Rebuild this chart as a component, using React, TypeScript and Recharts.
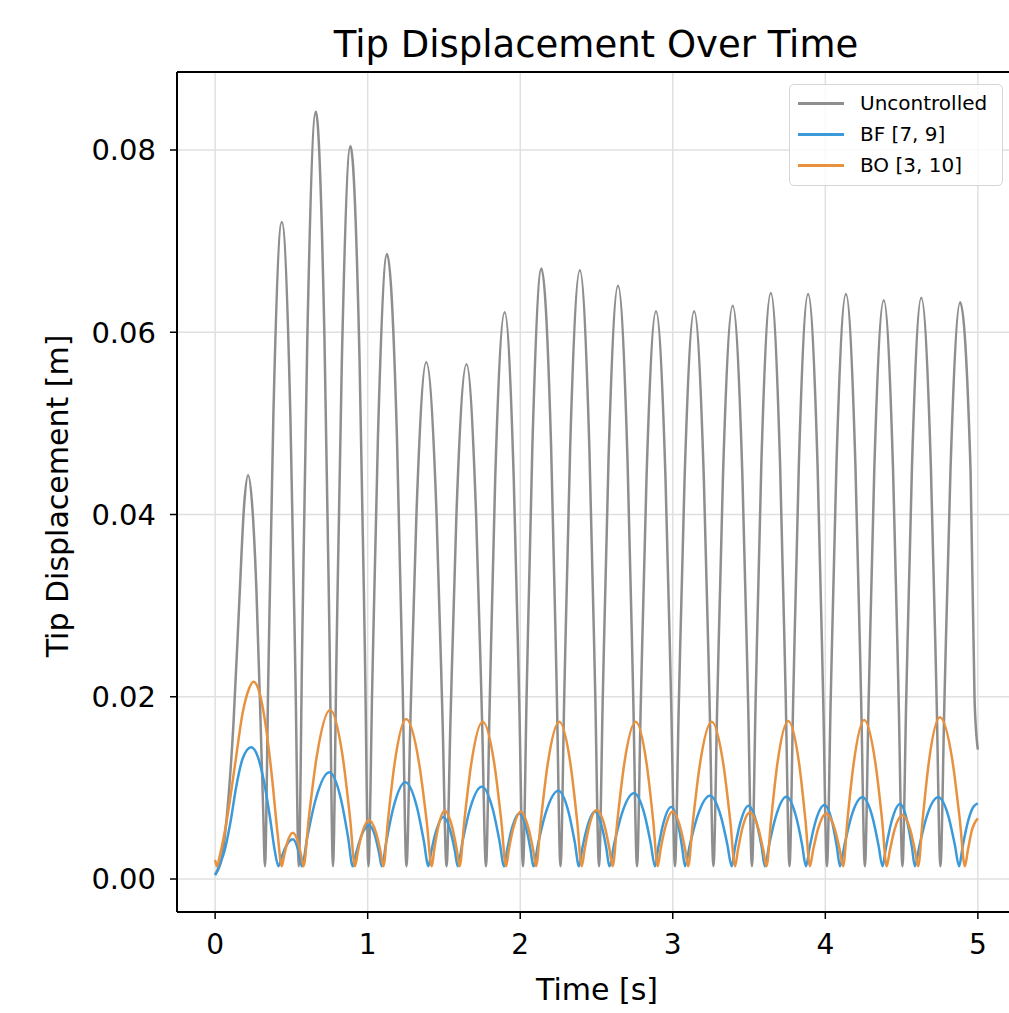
import React from 'react';
import { LineChart, Line, XAxis, YAxis, CartesianGrid, ReferenceLine } from 'recharts';

const X_TICKS = [0, 1, 2, 3, 4, 5];
const Y_TICKS = [0, 0.02, 0.04, 0.06, 0.08];
const X_DOMAIN: [number, number] = [-0.25, 5.25];
const Y_DOMAIN: [number, number] = [-0.00362, 0.08856];

const TITLE = 'Tip Displacement Over Time';
const X_LABEL = 'Time [s]';
const Y_LABEL = 'Tip Displacement [m]';

// Uncontrolled tip displacement [t, value]
const uncontrolled: [number, number][] = [
  [0, 0.0005], [0.04, 0.002], [0.08, 0.0075], [0.12, 0.017], [0.16, 0.031], [0.19, 0.041], [0.216, 0.0443], [0.245, 0.0405], [0.27, 0.032], [0.3, 0.016], [0.315, 0.0075],
  [0.3265, 0.0014], [0.3487, 0.0223], [0.382, 0.051], [0.437, 0.0721], [0.493, 0.051], [0.5263, 0.0223],
  [0.5485, 0.0014], [0.5709, 0.026], [0.6045, 0.0595], [0.66, 0.0842], [0.7165, 0.0595], [0.7501, 0.026],
  [0.7725, 0.0014], [0.7958, 0.0248], [0.8306, 0.0568], [0.887, 0.0804], [0.9469, 0.0568], [0.9818, 0.0248],
  [1.005, 0.0014], [1.0299, 0.0212], [1.0673, 0.0485], [1.127, 0.0686], [1.1918, 0.0485], [1.2291, 0.0212],
  [1.254, 0.0014], [1.2803, 0.0175], [1.3198, 0.0401], [1.384, 0.0567], [1.4513, 0.0401], [1.4907, 0.0175],
  [1.517, 0.0014], [1.5429, 0.0175], [1.5816, 0.0399], [1.648, 0.0565], [1.7109, 0.0399], [1.7497, 0.0175],
  [1.7755, 0.0014], [1.7998, 0.0192], [1.8361, 0.044], [1.898, 0.0622], [1.9574, 0.044], [1.9938, 0.0192],
  [2.018, 0.0014], [2.0426, 0.0207], [2.0795, 0.0474], [2.139, 0.067], [2.2025, 0.0474], [2.2394, 0.0207],
  [2.264, 0.0014], [2.2893, 0.0206], [2.3271, 0.0472], [2.391, 0.0668], [2.4534, 0.0472], [2.4913, 0.0206],
  [2.5165, 0.0014], [2.5414, 0.0201], [2.5788, 0.046], [2.641, 0.0651], [2.7033, 0.046], [2.7406, 0.0201],
  [2.7655, 0.0014], [2.7904, 0.0193], [2.8278, 0.044], [2.89, 0.0623], [2.9523, 0.044], [2.9896, 0.0193],
  [3.0145, 0.0014], [3.0397, 0.0193], [3.0775, 0.044], [3.14, 0.0623], [3.2035, 0.044], [3.2413, 0.0193],
  [3.2665, 0.0014], [3.2918, 0.0194], [3.3296, 0.0445], [3.393, 0.0629], [3.4559, 0.0445], [3.4938, 0.0194],
  [3.519, 0.0014], [3.5436, 0.0199], [3.5805, 0.0455], [3.643, 0.0643], [3.7035, 0.0455], [3.7404, 0.0199],
  [3.765, 0.0014], [3.7896, 0.0198], [3.8264, 0.0454], [3.887, 0.0642], [3.9491, 0.0454], [3.986, 0.0198],
  [4.0105, 0.0014], [4.0354, 0.0198], [4.0728, 0.0454], [4.135, 0.0642], [4.1973, 0.0454], [4.2346, 0.0198],
  [4.2595, 0.0014], [4.2841, 0.0196], [4.321, 0.0449], [4.383, 0.0635], [4.444, 0.0449], [4.4809, 0.0196],
  [4.5055, 0.0014], [4.5304, 0.0197], [4.5678, 0.0451], [4.629, 0.0638], [4.6922, 0.0451], [4.7296, 0.0197],
  [4.7545, 0.0014], [4.7809, 0.0196], [4.8204, 0.0448], [4.884, 0.0633], [4.9521, 0.0448], [4.9785, 0.0196], [5.0, 0.0142],
];

// BF [7, 9] controlled
const bf: [number, number][] = [
  [0, 0.0004], [0.03, 0.0016], [0.06, 0.003], [0.1, 0.0062], [0.14, 0.0103], [0.18, 0.0132], [0.236, 0.01445], [0.28, 0.0134], [0.32, 0.0107], [0.36, 0.0067], [0.39, 0.0032],
  [0.415, 0.0014], [0.4338, 0.0023], [0.462, 0.0035], [0.509, 0.00435], [0.5385, 0.0035], [0.5562, 0.0023],
  [0.568, 0.0014], [0.6042, 0.0046], [0.6585, 0.0087], [0.749, 0.01171], [0.8255, 0.0087], [0.8714, 0.0046],
  [0.902, 0.0014], [0.9234, 0.0028], [0.9555, 0.0046], [1.009, 0.00589], [1.0505, 0.0046], [1.0754, 0.0028],
  [1.092, 0.0014], [1.123, 0.0042], [1.1695, 0.0079], [1.247, 0.01061], [1.3225, 0.0079], [1.3678, 0.0042],
  [1.398, 0.0014], [1.4178, 0.0031], [1.4475, 0.0052], [1.497, 0.0068], [1.5435, 0.0052], [1.5714, 0.0031],
  [1.59, 0.0014], [1.6216, 0.0041], [1.669, 0.0076], [1.748, 0.01013], [1.821, 0.0076], [1.8648, 0.0041],
  [1.894, 0.0014], [1.9142, 0.0032], [1.9445, 0.0055], [1.995, 0.0072], [2.0405, 0.0055], [2.0678, 0.0032],
  [2.086, 0.0014], [2.1188, 0.004], [2.168, 0.0073], [2.25, 0.00969], [2.3175, 0.0073], [2.358, 0.004],
  [2.385, 0.0014], [2.406, 0.0033], [2.4375, 0.0056], [2.49, 0.0074], [2.537, 0.0056], [2.5652, 0.0033],
  [2.584, 0.0014], [2.6164, 0.0039], [2.665, 0.0071], [2.746, 0.0094], [2.8145, 0.0071], [2.8556, 0.0039],
  [2.883, 0.0014], [2.9044, 0.0034], [2.9365, 0.006], [2.99, 0.0079], [3.035, 0.006], [3.062, 0.0034],
  [3.08, 0.0014], [3.1128, 0.0038], [3.162, 0.0069], [3.244, 0.00914], [3.315, 0.0069], [3.3576, 0.0038],
  [3.386, 0.0014], [3.4082, 0.0035], [3.4415, 0.0061], [3.497, 0.00805], [3.5505, 0.0061], [3.5826, 0.0035],
  [3.604, 0.0014], [3.6322, 0.0038], [3.6745, 0.0068], [3.745, 0.00903], [3.809, 0.0068], [3.8474, 0.0038],
  [3.873, 0.0014], [3.8974, 0.0035], [3.934, 0.0062], [3.995, 0.00812], [4.0455, 0.0062], [4.0758, 0.0035],
  [4.096, 0.0014], [4.1254, 0.0037], [4.1695, 0.0068], [4.243, 0.00897], [4.309, 0.0068], [4.3486, 0.0037],
  [4.375, 0.0014], [4.398, 0.0035], [4.4325, 0.0062], [4.49, 0.00823], [4.5385, 0.0062], [4.5676, 0.0035],
  [4.587, 0.0014], [4.6176, 0.0037], [4.6635, 0.0068], [4.74, 0.00897], [4.8085, 0.0068], [4.8496, 0.0037],
  [4.877, 0.0014], [4.8996, 0.0035], [4.9335, 0.0062], [4.97, 0.0079], [5.0, 0.0083],
];

// BO [3, 10] controlled
const bo: [number, number][] = [
  [0, 0.0021], [0.012, 0.0014], [0.03, 0.0025], [0.08, 0.0068], [0.13, 0.0125], [0.18, 0.0182], [0.22, 0.0208], [0.251, 0.02165], [0.29, 0.0205], [0.33, 0.017], [0.37, 0.0116], [0.41, 0.0049],
  [0.437, 0.0014], [0.4514, 0.0025], [0.473, 0.004], [0.509, 0.00508], [0.544, 0.004], [0.565, 0.0025],
  [0.579, 0.0014], [0.614, 0.0067], [0.6665, 0.0135], [0.754, 0.01855], [0.8355, 0.0135], [0.8844, 0.0067],
  [0.917, 0.0014], [0.9354, 0.003], [0.963, 0.005], [1.009, 0.00647], [1.056, 0.005], [1.0842, 0.003],
  [1.103, 0.0014], [1.1328, 0.0064], [1.1775, 0.0128], [1.252, 0.01756], [1.336, 0.0128], [1.3864, 0.0064],
  [1.42, 0.0014], [1.437, 0.0033], [1.4625, 0.0057], [1.505, 0.0075], [1.554, 0.0057], [1.5834, 0.0033],
  [1.603, 0.0014], [1.6332, 0.0063], [1.6785, 0.0126], [1.754, 0.01726], [1.8305, 0.0126], [1.8764, 0.0063],
  [1.907, 0.0014], [1.9262, 0.0033], [1.955, 0.0056], [2.003, 0.00739], [2.0535, 0.0056], [2.0838, 0.0033],
  [2.104, 0.0014], [2.1344, 0.0063], [2.18, 0.0126], [2.256, 0.01726], [2.3295, 0.0126], [2.3736, 0.0063],
  [2.403, 0.0014], [2.4226, 0.0033], [2.452, 0.0058], [2.501, 0.00757], [2.5535, 0.0058], [2.585, 0.0033],
  [2.606, 0.0014], [2.6362, 0.0063], [2.6815, 0.0126], [2.757, 0.01726], [2.829, 0.0126], [2.8722, 0.0063],
  [2.901, 0.0014], [2.9206, 0.0033], [2.95, 0.0056], [2.999, 0.0074], [3.05, 0.0056], [3.0806, 0.0033],
  [3.101, 0.0014], [3.1318, 0.0063], [3.178, 0.0126], [3.255, 0.01727], [3.3315, 0.0126], [3.3774, 0.0063],
  [3.408, 0.0014], [3.4274, 0.0032], [3.4565, 0.0056], [3.505, 0.0073], [3.56, 0.0056], [3.593, 0.0032],
  [3.615, 0.0014], [3.6434, 0.0063], [3.686, 0.0127], [3.757, 0.01734], [3.828, 0.0127], [3.8706, 0.0063],
  [3.899, 0.0014], [3.9204, 0.0032], [3.9525, 0.0055], [4.006, 0.0072], [4.0615, 0.0055], [4.0948, 0.0032],
  [4.117, 0.0014], [4.1446, 0.0064], [4.186, 0.0127], [4.255, 0.01745], [4.3285, 0.0127], [4.3726, 0.0064],
  [4.402, 0.0014], [4.4226, 0.0031], [4.4535, 0.0054], [4.505, 0.007], [4.557, 0.0054], [4.5882, 0.0031],
  [4.609, 0.0014], [4.6374, 0.0064], [4.68, 0.013], [4.751, 0.01774], [4.833, 0.013], [4.8822, 0.0064],
  [4.915, 0.0014], [4.935, 0.0032], [4.96, 0.0053], [5.0, 0.00666],
];

const SERIES = [
  { name: 'Uncontrolled', color: '#8e8e8e', points: uncontrolled },
  { name: 'BF [7, 9]', color: '#3b9ad9', points: bf },
  { name: 'BO [3, 10]', color: '#e8913e', points: bo },
];

const FONT = 'DejaVu Sans, Verdana, sans-serif';

export default function App() {
  return (
    <div style={{ position: 'absolute', left: 0, top: 0, width: 1009, height: 1013, overflow: 'hidden', background: '#fff' }}>
      <LineChart width={1030} height={1013} margin={{ top: 72, right: 14, bottom: 0, left: 0 }}>
        <CartesianGrid stroke="#e0e0e0" strokeWidth={1.5} />
        <XAxis
          type="number"
          dataKey="t"
          domain={X_DOMAIN}
          ticks={X_TICKS}
          allowDataOverflow
          height={101}
          tickSize={7}
          tickMargin={15}
          axisLine={{ stroke: '#000', strokeWidth: 2 }}
          tickLine={{ stroke: '#000', strokeWidth: 1.5 }}
          tick={{ fill: '#000', fontSize: 28, fontFamily: FONT }}
        />
        <YAxis
          type="number"
          domain={Y_DOMAIN}
          ticks={Y_TICKS}
          allowDataOverflow
          width={177}
          tickSize={7}
          tickMargin={14}
          tickFormatter={(v: number) => v.toFixed(2)}
          axisLine={{ stroke: '#000', strokeWidth: 2 }}
          tickLine={{ stroke: '#000', strokeWidth: 1.5 }}
          tick={{ fill: '#000', fontSize: 29, fontFamily: FONT }}
        />
        <ReferenceLine y={Y_DOMAIN[1]} stroke="#000" strokeWidth={2} ifOverflow="extendDomain" />
        {SERIES.map((s) => (
          <Line
            key={s.name}
            name={s.name}
            data={s.points.map(([t, v]) => ({ t, v }))}
            dataKey="v"
            type="monotone"
            stroke={s.color}
            strokeWidth={2.5}
            dot={false}
            activeDot={false}
            isAnimationActive={false}
          />
        ))}
      </LineChart>
      <svg width={1009} height={1013} style={{ position: 'absolute', left: 0, top: 0, pointerEvents: 'none' }}>
        <text x={596} y={57} textAnchor="middle" fontSize={37} fontFamily={FONT} fill="#000">{TITLE}</text>
        <text x={597} y={1000} textAnchor="middle" fontSize={30} fontFamily={FONT} fill="#000">{X_LABEL}</text>
        <text transform="translate(68,496) rotate(-90)" textAnchor="middle" fontSize={30} fontFamily={FONT} fill="#000">{Y_LABEL}</text>
      </svg>
      <div
        style={{
          position: 'absolute',
          left: 789,
          top: 84,
          width: 214,
          height: 102,
          boxSizing: 'border-box',
          border: '1.5px solid #d6d6d6',
          borderRadius: 5,
          background: 'rgba(255,255,255,0.8)',
          fontFamily: FONT,
          fontSize: 20,
        }}
      >
        {SERIES.map((s, i) => (
          <div key={s.name} style={{ position: 'absolute', left: 0, top: 4 + i * 31, height: 28, display: 'flex', alignItems: 'center', whiteSpace: 'nowrap' }}>
            <span style={{ display: 'inline-block', marginLeft: 8, width: 46, height: 3, background: s.color }} />
            <span style={{ marginLeft: 16, color: '#000' }}>{s.name}</span>
          </div>
        ))}
      </div>
    </div>
  );
}
